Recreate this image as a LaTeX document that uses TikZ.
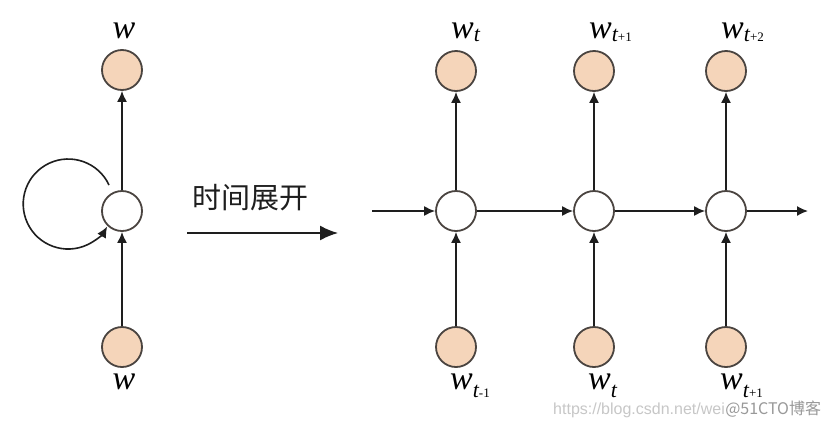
\documentclass[tikz,border=0pt]{standalone}
\usepackage{fontspec}
\setmainfont{Liberation Serif}
\newfontfamily\cjkfont{Noto Sans CJK SC}
\newfontfamily\wmfont{Liberation Sans}
\usetikzlibrary{arrows.meta}
\definecolor{peach}{HTML}{F5D5BA}
\definecolor{bordc}{HTML}{4A4440}
\definecolor{linec}{HTML}{1E1E1E}
\newcommand{\wsub}[3]{w\raisebox{#3}{\fontsize{22}{22}\selectfont #1\fontsize{13}{13}\selectfont\upshape #2}}
\begin{document}
\begin{tikzpicture}[x=1pt,y=-1pt,
  obs/.style={circle, draw=bordc, fill=peach, line width=1.8pt, minimum size=40pt, inner sep=0pt},
  hid/.style={circle, draw=bordc, fill=white, line width=1.8pt, minimum size=40pt, inner sep=0pt},
  conn/.style={draw=linec, line width=1.6pt, -{Latex[length=11pt,width=10pt]}},
  lab/.style={inner sep=0pt, anchor=base west, font=\fontsize{34}{34}\selectfont\itshape},
  wlab/.style={inner sep=0pt, anchor=base, font=\fontsize{34}{34}\selectfont\itshape}]
\useasboundingbox[fill=white] (0,0) rectangle (834,426);

% left folded network
\node[hid] (h0) at (122,211) {};
\node[obs] (y0) at (122,70) {};
\node[obs] (x0) at (122,347) {};
\node[wlab] (ly0) at (124,38) {w};
\node[wlab] (lx0) at (124,389) {w};
\draw[conn] (x0) -- (h0);
\draw[conn] (h0) -- (y0);
\coordinate (ls) at (109,185);
\draw[conn] (ls) arc[start angle=-25, end angle=-330, radius=45];

% unfold arrow
\coordinate (ua) at (187,233);
\coordinate (ub) at (338,233);
\draw[draw=linec, line width=1.7pt, -{Latex[length=18pt,width=15pt]}] (ua) -- (ub);
\node[inner sep=0pt, font=\cjkfont\fontsize{29}{29}\selectfont, text=linec] (tl) at (250,198) {时间展开};

% unfolded network
\node[hid] (h1) at (456,211) {};
\node[hid] (h2) at (594,211) {};
\node[hid] (h3) at (726,211) {};
\node[obs] (y1) at (456,71) {};
\node[obs] (y2) at (594,71) {};
\node[obs] (y3) at (726,71) {};
\node[obs] (x1) at (456,347) {};
\node[obs] (x2) at (594,347) {};
\node[obs] (x3) at (726,347) {};
\coordinate (in) at (372,211);
\coordinate (out) at (808,211);

\foreach \i in {1,2,3} {
  \draw[conn] (x\i) -- (h\i);
  \draw[conn] (h\i) -- (y\i);
}
\draw[conn] (in) -- (h1);
\draw[conn] (h1) -- (h2);
\draw[conn] (h2) -- (h3);
\draw[conn] (h3) -- (out);

% labels
\node[lab] (ly1) at (451,38) {\wsub{t}{}{-3pt}};
\node[lab] (ly2) at (589,38) {\wsub{t}{+1}{-3pt}};
\node[lab] (ly3) at (721,38) {\wsub{t}{+2}{-3pt}};
\node[lab] (lx1) at (450,389) {\wsub{t}{-1}{-8pt}};
\node[lab] (lx2) at (588,389) {\wsub{t}{}{-8pt}};
\node[lab] (lx3) at (720,389) {\wsub{t}{+1}{-8pt}};

% watermark
\node[inner sep=0pt, anchor=base west, font=\wmfont\fontsize{16}{16}\selectfont, text=black!22] (wm1) at (553,414) {https://blog.csdn.net/wei};
\node[inner sep=0pt, anchor=base west, font=\cjkfont\fontsize{16}{16}\selectfont, text=black!40] (wm2) at (wm1.base east) {@51CTO博客};
\end{tikzpicture}
\end{document}
